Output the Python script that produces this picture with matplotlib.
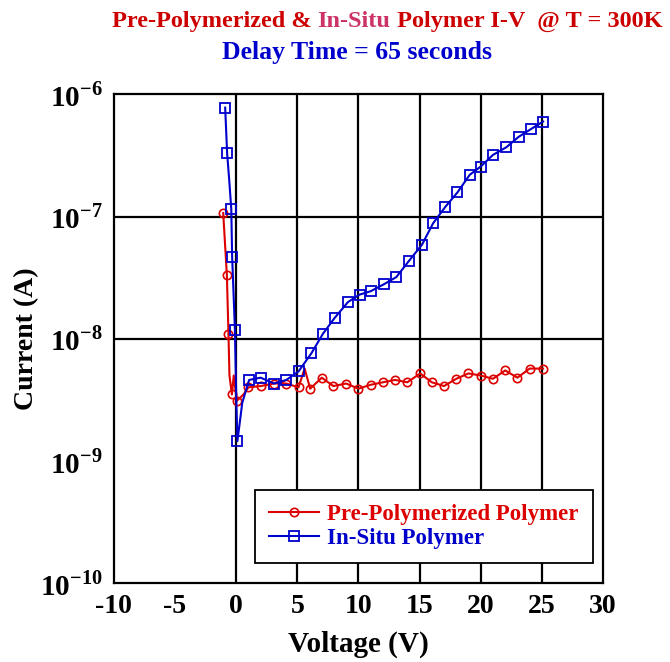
import matplotlib
matplotlib.use('Agg')
import matplotlib.pyplot as plt

plt.rcParams['font.family'] = ['Liberation Serif', 'DejaVu Serif']
plt.rcParams['font.weight'] = 'bold'
plt.rcParams['mathtext.fontset'] = 'custom'
plt.rcParams['mathtext.rm'] = 'Liberation Serif:bold'
plt.rcParams['mathtext.bf'] = 'Liberation Serif:bold'

# Pre-polymerized polymer (red circles)
pre_v = [-1.06, -0.76, -0.63, -0.55, -0.35, -0.2, 0.05, 0.6, 1.0, 2.0, 3.1, 4.1, 5.1, 5.6,
         6.05, 7.0, 7.95, 9.0, 10.0, 11.0, 12.0, 13.0, 14.0, 15.05, 16.0, 17.0, 18.0,
         19.0, 20.0, 21.0, 22.0, 23.0, 24.0, 25.1]
pre_i = [1.07e-7, 3.3e-8, 1.1e-8, 5.0e-9, 3.5e-9, 5.0e-9, 3.1e-9, 3.5e-9, 4.0e-9, 4.1e-9,
         4.3e-9, 4.3e-9, 4.0e-9, 5.7e-9, 3.9e-9, 4.8e-9, 4.1e-9, 4.3e-9, 3.9e-9, 4.2e-9,
         4.4e-9, 4.6e-9, 4.4e-9, 5.2e-9, 4.4e-9, 4.1e-9, 4.7e-9, 5.2e-9, 5.0e-9, 4.7e-9,
         5.5e-9, 4.8e-9, 5.7e-9, 5.7e-9]
pre_marked = [0, 1, 2, 4, 6, 8, 9, 10, 11, 12, 14, 15, 16, 17, 18, 19, 20, 21, 22, 23,
              24, 25, 26, 27, 28, 29, 30, 31, 32, 33]

# In-situ polymer (blue squares)
insitu_v = [-0.9, -0.74, -0.57, -0.4, -0.33, -0.1, 0.0, 0.1, 0.5, 1.06, 2.0, 3.1, 4.1, 5.1,
            6.15, 7.1, 8.05, 9.15, 10.1, 11.0, 12.1, 13.1, 14.1, 15.2, 16.1, 17.1, 18.1,
            19.1, 20.0, 21.0, 22.1, 23.1, 24.1, 25.1]
insitu_i = [7.8e-7, 3.3e-7, 2.0e-7, 1.15e-7, 4.7e-8, 1.17e-8, 3.5e-9, 1.45e-9, 3.0e-9,
            4.6e-9, 4.8e-9, 4.3e-9, 4.6e-9, 5.4e-9, 7.6e-9, 1.1e-8, 1.48e-8, 2.0e-8,
            2.3e-8, 2.45e-8, 2.8e-8, 3.2e-8, 4.3e-8, 5.9e-8, 8.8e-8, 1.2e-7, 1.58e-7,
            2.2e-7, 2.57e-7, 3.2e-7, 3.7e-7, 4.5e-7, 5.2e-7, 6.0e-7]
insitu_marked = [0, 1, 3, 4, 5, 7] + list(range(9, 34))

x_ticks = [-10, -5, 0, 5, 10, 15, 20, 25, 30]
y_ticks = [1e-10, 1e-9, 1e-8, 1e-7, 1e-6]
y_ticklabels = [r'$10^{-10}$', r'$10^{-9}$', r'$10^{-8}$', r'$10^{-7}$', r'$10^{-6}$']
grid_v = [0, 5, 10, 15, 20, 25]
grid_i = [1e-8, 1e-7]

red = '#DD0000'
blue = '#0000CC'

fig = plt.figure(figsize=(6.7, 6.62), dpi=100)
ax = fig.add_axes([0.170, 0.1193, 0.730, 0.738])

for v in grid_v:
    ax.axvline(v, color='black', lw=1.6, zorder=1)
for i in grid_i:
    ax.axhline(i, color='black', lw=1.6, zorder=1)

ax.plot(pre_v, pre_i, color=red, lw=1.5, marker='o', ms=6, mfc='none', mec=red,
        mew=1.2, markevery=pre_marked, label='Pre-Polymerized Polymer', zorder=3)
ax.plot(insitu_v, insitu_i, color=blue, lw=1.5, marker='s', ms=7, mfc='none', mec=blue,
        mew=1.3, markevery=insitu_marked, label='In-Situ Polymer', zorder=4)

ax.set_yscale('log')
ax.set_xlim(-10, 30)
ax.set_ylim(1e-10, 1e-6)
ax.set_xticks(x_ticks)
ax.set_xticklabels([str(t) for t in x_ticks], fontsize=20, fontweight='bold')
ax.set_yticks(y_ticks)
ax.set_yticklabels(y_ticklabels, fontsize=21)
ax.minorticks_off()
ax.tick_params(length=0, pad=8)
for s in ax.spines.values():
    s.set_linewidth(1.6)

ax.set_xlabel('Voltage (V)', fontsize=21, fontweight='bold', labelpad=8)
ax.set_ylabel('Current (A)', fontsize=20, fontweight='bold', labelpad=1)

leg = ax.legend(loc='upper left', bbox_to_anchor=(0.288, 0.033, 0.692, 0.157),
                mode='expand', fancybox=False, framealpha=1, edgecolor='black',
                fontsize=16.5, handlelength=2.2, borderpad=0.6, labelspacing=0.15,
                handletextpad=0.35, borderaxespad=0)
leg.get_frame().set_linewidth(1.3)
leg.set_zorder(5)
for txt, c in zip(leg.get_texts(), [red, blue]):
    txt.set_color(c)

# two-colour first title line
ty1 = 0.968
t1 = fig.text(0.167, ty1, 'Pre-Polymerized & ', color='#CC0000', fontsize=17.5,
              fontweight='bold', ha='left', va='center')
fig.canvas.draw()
bb = t1.get_window_extent()
x1 = bb.x1 / fig.bbox.width
t2 = fig.text(x1, ty1, 'In-Situ', color='#CC3366', fontsize=17.5, fontweight='bold',
              ha='left', va='center')
bb = t2.get_window_extent()
x2 = bb.x1 / fig.bbox.width
fig.text(x2, ty1, ' Polymer I-V  @ T = 300K', color='#CC0000', fontsize=17.5,
         fontweight='bold', ha='left', va='center')
fig.text(0.533, 0.920, 'Delay Time = 65 seconds', color=blue, fontsize=18.5,
         fontweight='bold', ha='center', va='center')

fig.savefig('out.png', dpi=100)
